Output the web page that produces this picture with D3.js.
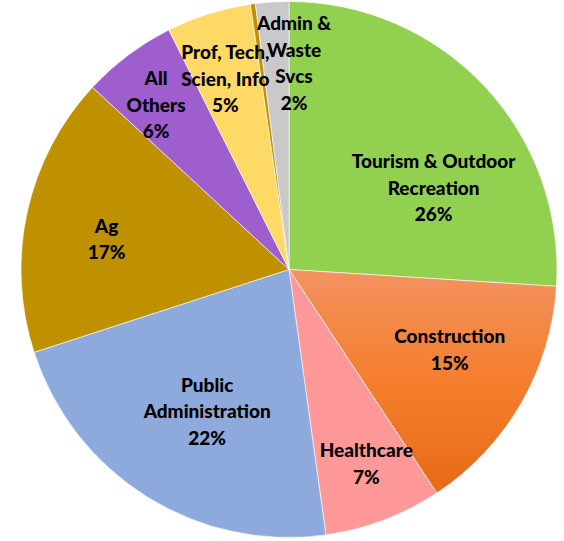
<!DOCTYPE html>
<html>
<head>
<meta charset="utf-8">
<script src="https://cdn.jsdelivr.net/npm/d3@7"></script>
<style>
  body { margin: 0; background: #fff; }
  text { font-family: Lato, "Liberation Sans", sans-serif; font-weight: 900; }
</style>
</head>
<body>
<div id="chart-area"></div>
<script>
var width = 564,
    height = 541;

// slices, clockwise from 12 o'clock
var sectors = ["Tourism & Outdoor Recreation", "Construction", "Healthcare",
               "Public Administration", "Ag", "All Others",
               "Prof, Tech, Scien, Info", "Mining", "Admin & Waste Svcs"];
var shares = [26.0, 14.7, 7.1, 22.2, 16.9, 5.7, 5.1, 0.3, 2.0];
var shareLabels = ["26%", "15%", "7%", "22%", "17%", "6%", "5%", "", "2%"];
// how each label is broken into lines
var labelLines = [["Tourism & Outdoor", "Recreation"], ["Construction"], ["Healthcare"],
                  ["Public", "Administration"], ["Ag"], ["All", "Others"],
                  ["Prof, Tech,", "Scien, Info"], [], ["Admin &", "Waste", "Svcs"]];

var colors = ["#92D050", "url(#constr)", "#FF9999", "#8EA9DB", "#BF9000",
              "#9E5ECE", "#FFD966", "#BF9000", "#C9C9C9"];

// label placement: radius as a share of r, and angle nudge in degrees
var labelRad = [0.62, 0.67, 0.78, 0.61, 0.69, 0.79, 0.75, 0, 0.77];
var labelTurn = [13.7, -3.6, -1, -2, -3, -2, -1, 0, 5];

var cx = 289, cy = 269.5, r = 268;

var svg = d3.select("#chart-area").append("svg")
    .attr("width", width)
    .attr("height", height);

var grad = svg.append("defs").append("linearGradient")
    .attr("id", "constr")
    .attr("gradientUnits", "userSpaceOnUse")
    .attr("x1", 0).attr("y1", 0).attr("x2", 0).attr("y2", r * 0.85);
grad.append("stop").attr("offset", "0%").attr("stop-color", "#F39260");
grad.append("stop").attr("offset", "50%").attr("stop-color", "#F47E2C");
grad.append("stop").attr("offset", "100%").attr("stop-color", "#E66A18");

var pie = d3.pie().sort(null).value(d => d);
var arcs = pie(shares);

var arc = d3.arc().innerRadius(0).outerRadius(r);

var g = svg.append("g").attr("transform", "translate(" + cx + "," + cy + ")");

g.selectAll("path")
    .data(arcs)
    .enter().append("path")
    .attr("d", arc)
    .attr("fill", (d, i) => colors[i])
    .attr("stroke", "#fff")
    .attr("stroke-width", 0.6);

var lineH = 26.5;

arcs.forEach(function(d, i) {
    if (!labelLines[i].length) return;
    var a = (d.startAngle + d.endAngle) / 2 + labelTurn[i] * Math.PI / 180;
    var rr = r * labelRad[i];
    var x = rr * Math.sin(a), y = -rr * Math.cos(a);
    var lines = labelLines[i].concat([shareLabels[i]]);
    var t = g.append("text")
        .attr("text-anchor", "middle")
        .attr("font-size", 19)
        .attr("fill", "#000");
    lines.forEach(function(s, k) {
        t.append("tspan")
            .attr("x", x)
            .attr("y", y + (k - (lines.length - 1) / 2) * lineH + 7)
            .text(s);
    });
});
</script>
</body>
</html>
